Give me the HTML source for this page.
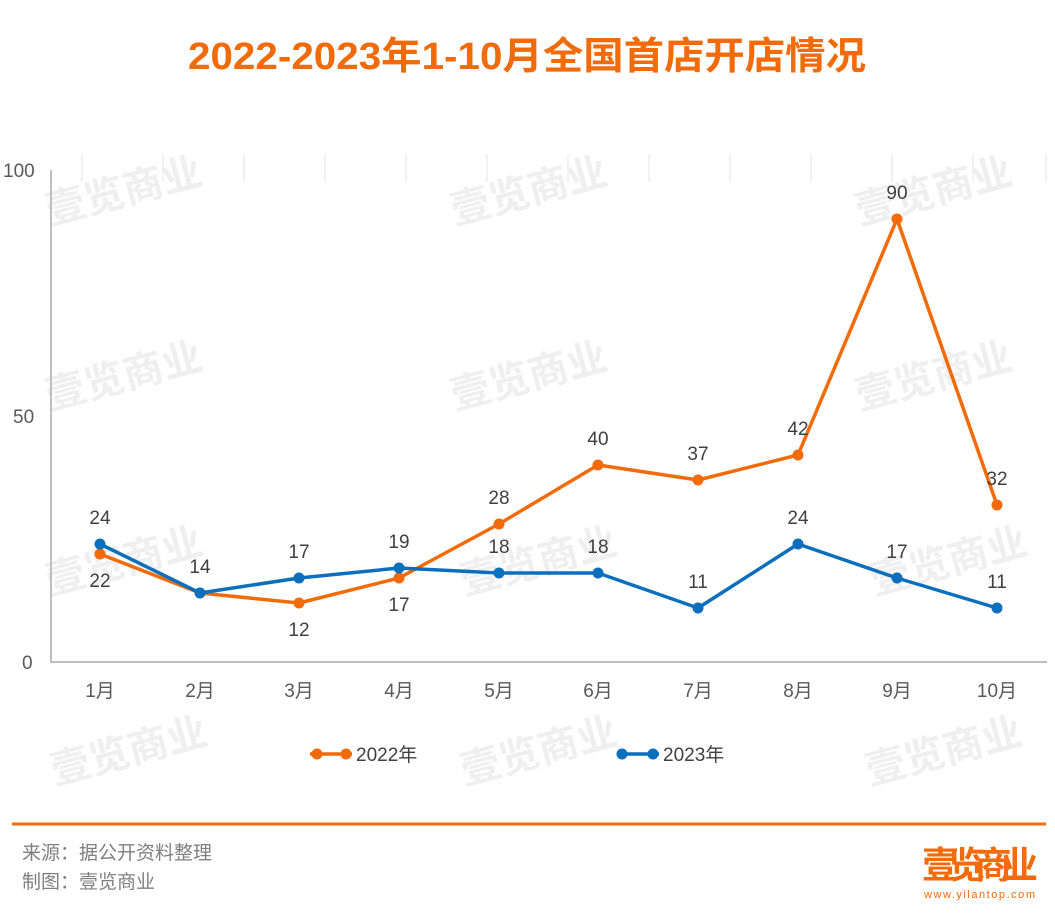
<!DOCTYPE html>
<html><head><meta charset="utf-8"><style>
body{margin:0;background:#fff;width:1055px;height:913px;overflow:hidden;font-family:"Liberation Sans","Noto Sans CJK SC",sans-serif}
</style></head><body>
<svg width="1055" height="913" xmlns="http://www.w3.org/2000/svg" font-family="Liberation Sans, Noto Sans CJK SC, sans-serif">
<text x="188" y="69" font-size="38" font-weight="bold" fill="#f26b0a" textLength="678" lengthAdjust="spacingAndGlyphs">2022-2023年1-10月全国首店开店情况</text>
<g stroke="#e4e4e4" stroke-width="1">
<line x1="82" y1="154" x2="82" y2="182"/><line x1="163" y1="154" x2="163" y2="182"/><line x1="244" y1="154" x2="244" y2="182"/><line x1="325" y1="154" x2="325" y2="182"/><line x1="406" y1="154" x2="406" y2="182"/><line x1="487" y1="154" x2="487" y2="182"/><line x1="568" y1="154" x2="568" y2="182"/><line x1="649" y1="154" x2="649" y2="182"/><line x1="730" y1="154" x2="730" y2="182"/><line x1="811" y1="154" x2="811" y2="182"/><line x1="892" y1="154" x2="892" y2="182"/><line x1="973" y1="154" x2="973" y2="182"/><line x1="1046" y1="154" x2="1046" y2="182"/>
</g>
<g font-size="40" fill="#efefef" font-weight="bold">
<text x="50" y="225" transform="rotate(-15 50 225)">壹览商业</text>
<text x="455" y="225" transform="rotate(-15 455 225)">壹览商业</text>
<text x="860" y="225" transform="rotate(-15 860 225)">壹览商业</text>
<text x="50" y="410" transform="rotate(-15 50 410)">壹览商业</text>
<text x="455" y="410" transform="rotate(-15 455 410)">壹览商业</text>
<text x="860" y="410" transform="rotate(-15 860 410)">壹览商业</text>
<text x="50" y="595" transform="rotate(-15 50 595)">壹览商业</text>
<text x="465" y="595" transform="rotate(-15 465 595)">壹览商业</text>
<text x="875" y="595" transform="rotate(-15 875 595)">壹览商业</text>
<text x="55" y="785" transform="rotate(-15 55 785)">壹览商业</text>
<text x="465" y="785" transform="rotate(-15 465 785)">壹览商业</text>
<text x="870" y="785" transform="rotate(-15 870 785)">壹览商业</text>
</g>
<line x1="51" y1="170" x2="51" y2="663" stroke="#bfbfbf" stroke-width="2"/>
<line x1="50" y1="662" x2="1047" y2="662" stroke="#bfbfbf" stroke-width="2"/>
<g font-size="19" fill="#595959">
<text x="3" y="177">100</text><text x="13" y="423">50</text><text x="22" y="669">0</text>
</g>
<g font-size="19" fill="#595959" text-anchor="middle">
<text x="100" y="697">1月</text><text x="200" y="697">2月</text><text x="299" y="697">3月</text><text x="399" y="697">4月</text><text x="499" y="697">5月</text><text x="598" y="697">6月</text><text x="698" y="697">7月</text><text x="798" y="697">8月</text><text x="897" y="697">9月</text><text x="997" y="697">10月</text>
</g>
<polyline fill="none" stroke="#f26b0a" stroke-width="3.5" stroke-linejoin="round" points="100,554 200,593 299,603 399,578 499,524 598,465 698,480 798,455 897,219 997,505"/>
<g fill="#f26b0a"><circle cx="100" cy="554" r="5.5"/><circle cx="200" cy="593" r="5.5"/><circle cx="299" cy="603" r="5.5"/><circle cx="399" cy="578" r="5.5"/><circle cx="499" cy="524" r="5.5"/><circle cx="598" cy="465" r="5.5"/><circle cx="698" cy="480" r="5.5"/><circle cx="798" cy="455" r="5.5"/><circle cx="897" cy="219" r="5.5"/><circle cx="997" cy="505" r="5.5"/></g>
<polyline fill="none" stroke="#0b6fbd" stroke-width="3.5" stroke-linejoin="round" points="100,544 200,593 299,578 399,568 499,573 598,573 698,608 798,544 897,578 997,608"/>
<g fill="#0b6fbd"><circle cx="100" cy="544" r="5.5"/><circle cx="200" cy="593" r="5.5"/><circle cx="299" cy="578" r="5.5"/><circle cx="399" cy="568" r="5.5"/><circle cx="499" cy="573" r="5.5"/><circle cx="598" cy="573" r="5.5"/><circle cx="698" cy="608" r="5.5"/><circle cx="798" cy="544" r="5.5"/><circle cx="897" cy="578" r="5.5"/><circle cx="997" cy="608" r="5.5"/></g>
<g font-size="19" fill="#404040" text-anchor="middle">
<text x="100" y="587">22</text><text x="299" y="636">12</text><text x="399" y="611">17</text><text x="499" y="504">28</text><text x="598" y="445">40</text><text x="698" y="460">37</text><text x="798" y="435">42</text><text x="897" y="199">90</text><text x="997" y="485">32</text>
<text x="100" y="524">24</text><text x="200" y="573">14</text><text x="299" y="558">17</text><text x="399" y="548">19</text><text x="499" y="553">18</text><text x="598" y="553">18</text><text x="698" y="588">11</text><text x="798" y="524">24</text><text x="897" y="558">17</text><text x="997" y="588">11</text>
</g>
<line x1="310" y1="754" x2="352" y2="754" stroke="#f26b0a" stroke-width="3.5"/><circle cx="317" cy="754" r="5.5" fill="#f26b0a"/><circle cx="346" cy="754" r="5.5" fill="#f26b0a"/>
<text x="356" y="761" font-size="19" fill="#404040">2022年</text>
<line x1="617" y1="754" x2="659" y2="754" stroke="#0b6fbd" stroke-width="3.5"/><circle cx="622" cy="754" r="5.5" fill="#0b6fbd"/><circle cx="653" cy="754" r="5.5" fill="#0b6fbd"/>
<text x="663" y="761" font-size="19" fill="#404040">2023年</text>
<line x1="12" y1="824" x2="1046" y2="824" stroke="#f26b0a" stroke-width="3"/>
<text x="22" y="859" font-size="19" fill="#7f7f7f">来源：据公开资料整理</text>
<text x="22" y="888" font-size="19" fill="#7f7f7f">制图：壹览商业</text>
<text x="922" y="878" font-size="37" font-weight="bold" fill="#f26b0a" textLength="116">壹览商业</text>
<text x="924" y="898" font-size="11" fill="#f26b0a" textLength="112" letter-spacing="1">www.yilantop.com</text>
</svg>
</body></html>
